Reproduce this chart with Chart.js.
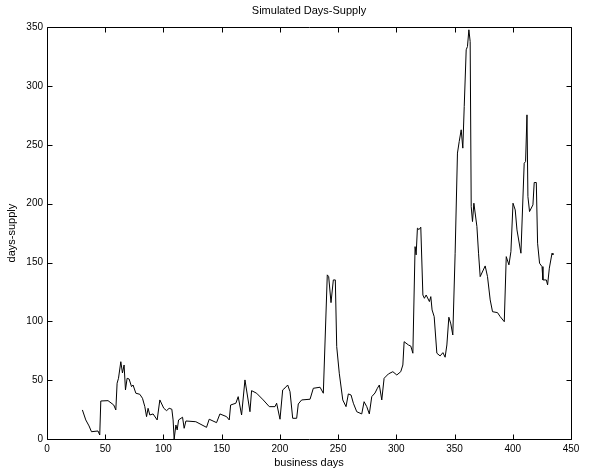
<!DOCTYPE html>
<html><head><meta charset="utf-8">
<script src="https://cdn.jsdelivr.net/npm/chart.js@4.4.0/dist/chart.umd.min.js"></script>
<style>html,body{margin:0;padding:0;background:#fff}#wrap{width:589px;height:475px}</style>
</head><body><div id="wrap"><canvas id="c" width="589" height="475"></canvas></div>
<script>
const chartTitle = 'Simulated Days-Supply';
const xLabel = 'business days';
const yLabel = 'days-supply';
const xTicks = [0, 50, 100, 150, 200, 250, 300, 350, 400, 450];
const yTicks = [0, 50, 100, 150, 200, 250, 300, 350];

const days = [
30.4,33.3,36.1,38.2,43.8,45.3,46.2,52.4,57.3,59.1,60.2,61.4,63.4,64.8,66.2,67.4,68.8,70.5,72.6,73.9,
76.3,79.7,82,84,85.5,86.8,88.3,91.1,94.6,96.9,100.3,102.7,104.9,107.2,108.3,109.2,110.7,111.8,113,116.4,
117.8,119.3,127.8,137,139.3,145.6,148.5,154.2,156.5,157.7,162.2,164.2,167.1,170,174.3,175.7,180,185.7,190.9,195.8,
197.2,200.1,202.4,204.4,206.7,208.7,211,214.4,215.8,218.7,225.9,228.7,234.5,237.3,240.7,241.9,243.9,245.9,247.6,248.8,
251,254,256.8,258.8,261.1,263.1,266,270.3,272.3,274.6,276.8,278.9,281.7,283.7,285.4,287.5,289.5,293.2,297,300.4,
303.8,305.6,306.7,310.4,312.4,314.2,316.1,317,318.1,319.5,321,322.8,324.1,325.6,328.4,329.6,330.7,332.5,334.8,337.6,
340,341.9,343.4,345.1,346.8,348.5,350.5,352.5,354,355.7,357.1,358.3,360,361.1,362.3,363.4,364.3,365.4,366.6,369.2,
370.6,372,376.3,378.3,380.6,382.6,386.9,389.2,392.7,394.4,396.7,398.4,400.2,402.1,403.6,407,409.8,411,412.2,413,
414.4,417.3,418.4,420.2,421.3,423,425.1,425.9,428.8,429.9,431.4,433.7,434.5
];
const supply = [
24.7,16.2,11.1,6.2,6.8,3.4,32.3,32.6,28.9,24.7,47.4,51.6,65.7,56.1,62.9,41.7,51.6,51,44.5,45.9,
38.9,38,34.6,27.5,19,26.1,20.4,21.3,16.2,33.2,26.1,24.1,26.1,25.3,16.2,0,11.9,7.7,16.2,18.5,
9.1,15.3,14.7,9.9,16.8,13.9,21.3,19,16.2,28.9,30.4,36,20.4,50.2,23.2,41.1,38.9,33.2,27.5,27.5,
30.4,16.8,41.7,43.4,45.9,40.2,17.6,17.6,29.8,33.2,33.8,43.1,44,38.9,139.5,138,115.9,135.2,135.2,78.5,
55.9,33.2,27.5,38.3,37.4,30.4,23.2,21.3,31.7,27.5,21.3,36,39.1,43.1,45.9,33.2,51.6,55.3,57.2,54.4,
57.2,62.9,82.7,79.9,79,72.9,163.5,156.5,179.2,178,180,122.4,119.6,122.4,116.8,121,109.7,104,72.9,70.6,
73.4,69.5,79.9,103.5,97.8,88.4,157.9,243,252.8,262.8,247.2,282.6,330.8,333.6,347.8,337.8,197.5,184.8,200.4,180.5,
157.9,138,147.1,138,118.2,108.2,107.4,104,99.7,155,148,159.3,200.4,194.7,177.7,157.9,234.4,235.8,275.5,206,
193.3,199,218,218,166.4,149.4,146.5,135.2,135.2,131,145.2,157.9,156.5
];

const FONT = 'Liberation Sans, Arial, Helvetica, sans-serif';

const boxPlugin = {
  id: 'box',
  afterDraw(chart) {
    const {ctx, chartArea: a, scales: {x, y}} = chart;
    const L = 5;
    ctx.save();
    ctx.strokeStyle = '#000';
    ctx.lineWidth = 1;
    ctx.beginPath();
    const l = Math.round(a.left) + 0.5, r = Math.round(a.right) + 0.5;
    const t = Math.round(a.top) + 0.5, b = Math.round(a.bottom) + 0.5;
    ctx.rect(l, t, r - l, b - t);
    xTicks.forEach(v => {
      const p = Math.round(x.getPixelForValue(v)) + 0.5;
      ctx.moveTo(p, b); ctx.lineTo(p, b - L);
      ctx.moveTo(p, t); ctx.lineTo(p, t + L);
    });
    yTicks.forEach(v => {
      const p = Math.round(y.getPixelForValue(v)) + 0.5;
      ctx.moveTo(l, p); ctx.lineTo(l + L, p);
      ctx.moveTo(r, p); ctx.lineTo(r - L, p);
    });
    ctx.stroke();
    ctx.restore();
  }
};

new Chart(document.getElementById('c'), {
  type: 'line',
  data: {
    datasets: [{
      data: days.map((d, i) => ({x: d, y: supply[i]})),
      borderColor: '#000',
      borderWidth: 1,
      pointRadius: 0,
      tension: 0,
      fill: false
    }]
  },
  options: {
    responsive: false,
    animation: false,
    devicePixelRatio: 1,
    layout: {padding: {left: 0, right: 18, top: 0, bottom: 0}},
    plugins: {
      legend: {display: false},
      tooltip: {enabled: false},
      title: {
        display: true, text: chartTitle, color: '#000', fullSize: false,
        font: {family: FONT, size: 11, weight: 'normal'},
        padding: {top: 4, bottom: 10}
      }
    },
    scales: {
      x: {
        type: 'linear', min: 0, max: 450,
        afterBuildTicks: s => { s.ticks = xTicks.map(v => ({value: v})); },
        afterFit: s => { s.height = 36; },
        grid: {display: false, drawTicks: false},
        border: {display: false},
        ticks: {color: '#000', padding: 4, maxRotation: 0, autoSkip: false,
                font: {family: FONT, size: 10}},
        title: {display: true, text: xLabel, color: '#000',
                font: {family: FONT, size: 11}, padding: {top: 0, bottom: 5}}
      },
      y: {
        type: 'linear', min: 0, max: 350,
        afterBuildTicks: s => { s.ticks = yTicks.map(v => ({value: v})); },
        afterFit: s => { s.width = 47; },
        grid: {display: false, drawTicks: false},
        border: {display: false},
        ticks: {color: '#000', padding: 4, autoSkip: false,
                font: {family: FONT, size: 10}},
        title: {display: true, text: yLabel, color: '#000',
                font: {family: FONT, size: 11}, padding: {top: 5, bottom: 0}}
      }
    }
  },
  plugins: [boxPlugin]
});
</script>
</body></html>
